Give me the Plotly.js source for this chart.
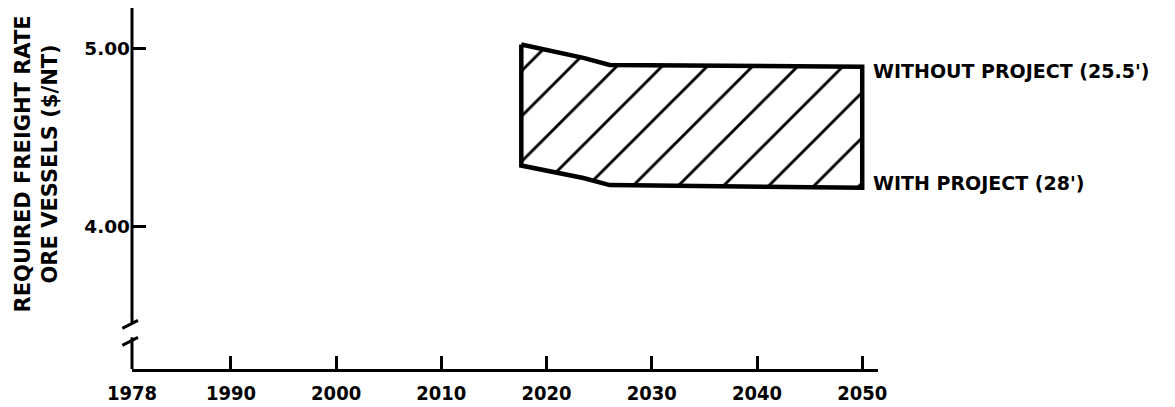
<!DOCTYPE html>
<html>
<head>
<meta charset="utf-8">
<script src="https://cdn.plot.ly/plotly-3.0.1.min.js"></script>
<style>html,body{margin:0;padding:0;background:#fff;}#chart{width:1175px;height:407px;}</style>
</head>
<body>
<div id="chart"></div>
<script>
// ---- data ----
const years = [2017.6, 2023.5, 2026, 2050];
const withoutProject = [5.02, 4.945, 4.905, 4.895];   // WITHOUT PROJECT (25.5')
const withProject    = [4.34, 4.27, 4.23, 4.215];     // WITH PROJECT (28')
const xTickVals  = [1980.6, 1990, 2000, 2010, 2020, 2030, 2040, 2050];
const xTickText  = ['1978', '1990', '2000', '2010', '2020', '2030', '2040', '2050'];
const yTickVals  = [4.0, 5.0];
const yTickText  = ['4.00', '5.00'];
const labelWithout = "WITHOUT PROJECT (25.5')";
const labelWith = "WITH PROJECT (28')";
const yTitleLines = ['REQUIRED FREIGHT RATE', 'ORE VESSELS ($/NT)'];

const FONT = 'DejaVu Sans, Liberation Sans, Arial, sans-serif';
const NARROW = 'DejaVu Sans Condensed, Liberation Sans, sans-serif';

// closed band polygon: top edge left->right, bottom edge right->left
const polyX = years.concat(years.slice().reverse(), [years[0]]);
const polyY = withoutProject.concat(withProject.slice().reverse(), [withoutProject[0]]);

const band = {
  type: 'scatter', mode: 'lines',
  x: polyX, y: polyY,
  fill: 'toself',
  fillcolor: 'white',
  fillpattern: {shape: '/', fgcolor: 'black', bgcolor: 'white', size: 32, solidity: 0.09},
  line: {color: 'black', width: 4.5},
  hoverinfo: 'skip', showlegend: false
};

const xRange = [1980.6, 2051.5];
const yRange = [3.197, 5.225];

const layout = {
  width: 1175, height: 407,
  margin: {l: 132, r: 297, t: 8, b: 38},
  paper_bgcolor: 'white', plot_bgcolor: 'white',
  showlegend: false,
  font: {family: FONT, color: 'black'},
  xaxis: {
    range: xRange, showgrid: false, zeroline: false,
    showline: true, linecolor: 'black', linewidth: 3,
    tickmode: 'array', tickvals: xTickVals, ticktext: xTickText,
    ticks: 'inside', ticklen: 13, tickwidth: 3, tickcolor: 'black',
    ticklabelstandoff: 4,
    tickfont: {family: NARROW, size: 20, color: 'black', weight: 'bold'}
  },
  yaxis: {
    range: yRange, showgrid: false, zeroline: false, showline: false,
    tickmode: 'array', tickvals: yTickVals, ticktext: yTickText,
    ticks: 'inside', ticklen: 14, tickwidth: 3, tickcolor: 'black',
    ticklabelstandoff: 1,
    tickfont: {family: FONT, size: 18.5, color: 'black', weight: 'bold'}
  },
  shapes: [
    // broken y axis line
    {type: 'line', xref: 'paper', yref: 'y', x0: 0, x1: 0, y0: yRange[1], y1: 3.46, line: {color: 'black', width: 3}},
    {type: 'line', xref: 'paper', yref: 'y', x0: 0, x1: 0, y0: 3.375, y1: yRange[0], line: {color: 'black', width: 3}},
    // break marks
    {type: 'line', xref: 'paper', yref: 'y', x0: -0.013, x1: 0.008, y0: 3.425, y1: 3.47, line: {color: 'black', width: 3}},
    {type: 'line', xref: 'paper', yref: 'y', x0: -0.013, x1: 0.008, y0: 3.33, y1: 3.375, line: {color: 'black', width: 3}}
  ],
  annotations: [
    {x: years[years.length-1], y: withoutProject[withoutProject.length-1], xref: 'x', yref: 'y',
     text: labelWithout, showarrow: false, xanchor: 'left', yanchor: 'middle', xshift: 9, yshift: -4,
     font: {family: FONT, size: 19, color: 'black', weight: 'bold'}},
    {x: years[years.length-1], y: withProject[withProject.length-1], xref: 'x', yref: 'y',
     text: labelWith, showarrow: false, xanchor: 'left', yanchor: 'middle', xshift: 9, yshift: 5,
     font: {family: FONT, size: 19, color: 'black', weight: 'bold'}},
    {x: -0.128, y: 0.568, xref: 'paper', yref: 'paper',
     text: yTitleLines.join('<br>'), showarrow: false, textangle: -90,
     xanchor: 'center', yanchor: 'middle',
     font: {family: FONT, size: 21, color: 'black', weight: 'bold'}}
  ]
};

Plotly.newPlot('chart', [band], layout, {displayModeBar: false, staticPlot: true});
</script>
</body>
</html>
